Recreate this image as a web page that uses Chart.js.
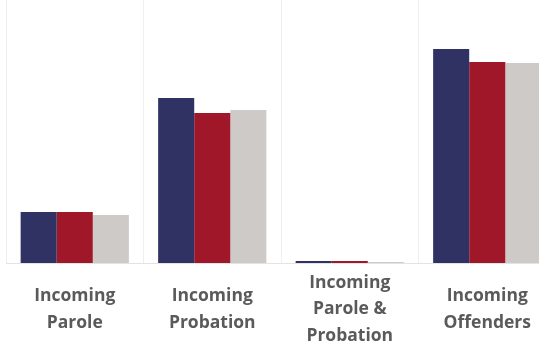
<!DOCTYPE html>
<html>
<head>
<meta charset="utf-8">
<script src="https://cdn.jsdelivr.net/npm/chart.js@4"></script>
<style>
    html, body { margin: 0; padding: 0; background: #ffffff; overflow: hidden; }
    #wrap { position: absolute; left: 0; top: 0; width: 556px; height: 345px; }
</style>
</head>
<body>
<div id="wrap"><canvas id="popChart"></canvas></div>
<script>
// categories (multi-line labels)
const categories = [
    ['Incoming', 'Parole'],
    ['Incoming', 'Probation'],
    ['Incoming', 'Parole &', 'Probation'],
    ['Incoming', 'Offenders']
];

// series values
const seriesNames = ['Year 1', 'Year 2', 'Year 3'];
const navyValues = [510, 1650, 20, 2140];
const redValues = [510, 1500, 20, 2010];
const greyValues = [480, 1530, 10, 2000];

const seriesColors = ['#2f3262', '#a01729', '#cdcac7'];

const yMax = 2630;

document.addEventListener('DOMContentLoaded', function() {
    const ctx = document.getElementById('popChart');

    new Chart(ctx, {
        type: 'bar',
        data: {
            labels: categories,
            datasets: [navyValues, redValues, greyValues].map((vals, i) => ({
                label: seriesNames[i],
                data: vals,
                backgroundColor: seriesColors[i],
                borderWidth: 0,
                barPercentage: 1.0,
                categoryPercentage: 0.787
            }))
        },
        options: {
            responsive: true,
            maintainAspectRatio: false,
            animation: false,
            layout: {
                padding: { left: 6, right: 0, top: 0, bottom: 0 }
            },
            plugins: {
                legend: { display: false },
                tooltip: { enabled: false }
            },
            scales: {
                x: {
                    grid: {
                        color: '#efefef',
                        lineWidth: 1,
                        drawTicks: false
                    },
                    border: {
                        display: true,
                        color: '#e3e3e3'
                    },
                    ticks: {
                        color: '#5a5a5a',
                        padding: 20,
                        maxRotation: 0,
                        autoSkip: false,
                        crossAlign: 'center',
                        font: {
                            family: '"Open Sans", sans-serif',
                            size: 17.5,
                            weight: 'bold',
                            lineHeight: '26.5px'
                        }
                    },
                    afterFit: function(scale) {
                        scale.height = 82;
                    }
                },
                y: {
                    display: false,
                    min: 0,
                    max: yMax
                }
            }
        }
    });
});
</script>
</body>
</html>
